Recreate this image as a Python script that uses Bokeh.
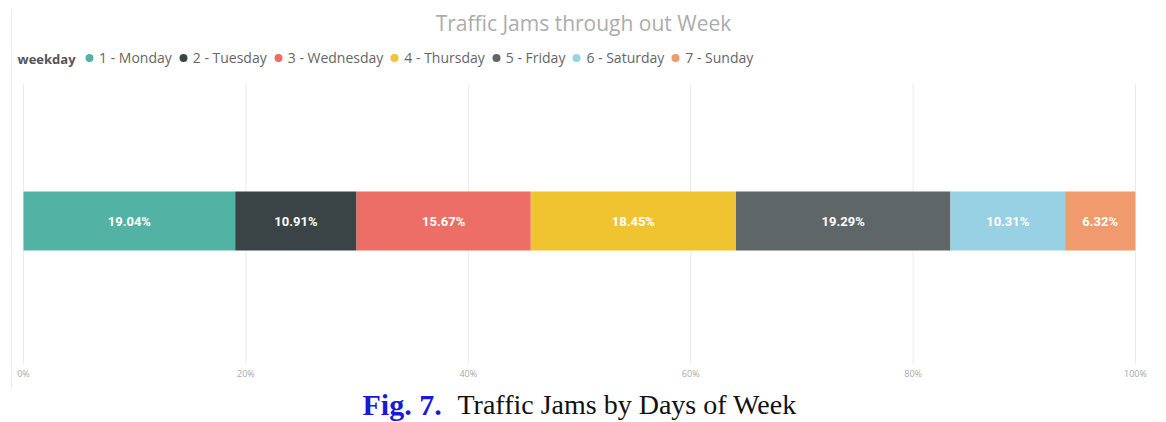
import numpy as np
from bokeh.plotting import figure
from bokeh.models import Range1d, Legend, LegendItem, Label, ColumnDataSource
from bokeh.core.properties import value
from bokeh.embed import file_html
from bokeh.resources import INLINE

# ---- data ----
weekdays = ["1 - Monday", "2 - Tuesday", "3 - Wednesday", "4 - Thursday",
            "5 - Friday", "6 - Saturday", "7 - Sunday"]
shares = [19.04, 10.91, 15.67, 18.45, 19.29, 10.31, 6.32]
colors = ["#52b3a5", "#3a4446", "#ec6e66", "#f0c431", "#5f6668", "#98d0e4", "#f09a6e"]
ticks = [0, 20, 40, 60, 80, 100]
tick_labels = ["0%", "20%", "40%", "60%", "80%", "100%"]

title_text = "Traffic Jams through out Week"
legend_title = "weekday"
caption_bold = "Fig. 7."
caption_text = "Traffic Jams by Days of Week"

# ---- layout (pixels) ----
W, H = 1166, 422
X0, X100 = 23.0, 1135.0          # pixel positions of 0% and 100%
PX = (X100 - X0) / 100.0         # pixels per percent
def px2x(px):
    return (px - X0) / PX

BAR_Y, BAR_H = 220.5, 59         # bar centre / height in pixels from top
GRID_TOP, GRID_BOT = 83, 363
TICK_Y = 373

p = figure(width=W, height=H, output_backend="svg", toolbar_location=None,
           x_range=Range1d(px2x(0), px2x(W)), y_range=Range1d(H, 0),
           min_border=0, title=None)
p.axis.visible = False
p.grid.visible = False
p.outline_line_color = None
p.background_fill_color = "white"
p.border_fill_color = "white"

# faint left border line of the visual
p.segment(x0=[px2x(11)], x1=[px2x(11)], y0=[8], y1=[388], line_color="#ececec", line_width=1)

# grid lines + tick labels (from ticks)
p.segment(x0=ticks, x1=ticks, y0=[GRID_TOP] * len(ticks), y1=[GRID_BOT] * len(ticks),
          line_color="#ebebeb", line_width=1)
p.text(x=ticks, y=[TICK_Y] * len(ticks), text=tick_labels, text_font=value("Open Sans"),
       text_font_size="9px", text_color="#a8a8a8", text_align="center",
       text_baseline="middle")

# stacked bar
left = np.concatenate([[0], np.cumsum(shares)[:-1]])
right = np.cumsum(shares)
src = ColumnDataSource(dict(left=left, right=right, color=colors, name=weekdays,
                            mid=(left + right) / 2,
                            lab=[f"{v:.2f}%" for v in shares]))
p.hbar(y=BAR_Y, left="left", right="right", height=BAR_H, fill_color="color",
       line_color=None, source=src)
p.text(x="mid", y=BAR_Y, text="lab", source=src, text_color="white",
       text_font=value("Roboto"), text_font_size="13px", text_font_style="bold",
       text_align="center", text_baseline="middle")

# legend (circle markers; proxy point kept off-canvas)
items = []
for name, c in zip(weekdays, colors):
    r = p.scatter(x=[0], y=[-100], marker="circle", size=10, fill_color=c, line_color=None)
    items.append(LegendItem(label=name, renderers=[r]))
legend = Legend(items=items, orientation="horizontal", location=(79, H - 69),
                glyph_width=20, glyph_height=23, label_height=16, label_standoff=0,
                spacing=1, padding=0, margin=0, border_line_color=None,
                background_fill_alpha=0, label_text_font="Open Sans",
                label_text_font_size="14px", label_text_color="#666666")
p.add_layout(legend, "center")

# texts
p.add_layout(Label(x=px2x(583), y=22, text=title_text,
                   text_font="Open Sans", text_font_size="21px", text_color="#acacac",
                   text_align="center", text_baseline="middle"))
p.add_layout(Label(x=px2x(17), y=58, text=legend_title,
                   text_font="Open Sans", text_font_size="13px", text_font_style="bold",
                   text_color="#555555", text_align="left", text_baseline="middle"))
p.add_layout(Label(x=px2x(362), y=404, text=caption_bold,
                   text_font="Liberation Serif", text_font_size="30px", text_font_style="bold",
                   text_color="#1a1ad6", text_align="left", text_baseline="alphabetic"))
p.add_layout(Label(x=px2x(457), y=404, text=caption_text,
                   text_font="Liberation Serif", text_font_size="28px",
                   text_color="#111111", text_align="left", text_baseline="alphabetic"))

open("out.html", "w").write(file_html(p, INLINE))
